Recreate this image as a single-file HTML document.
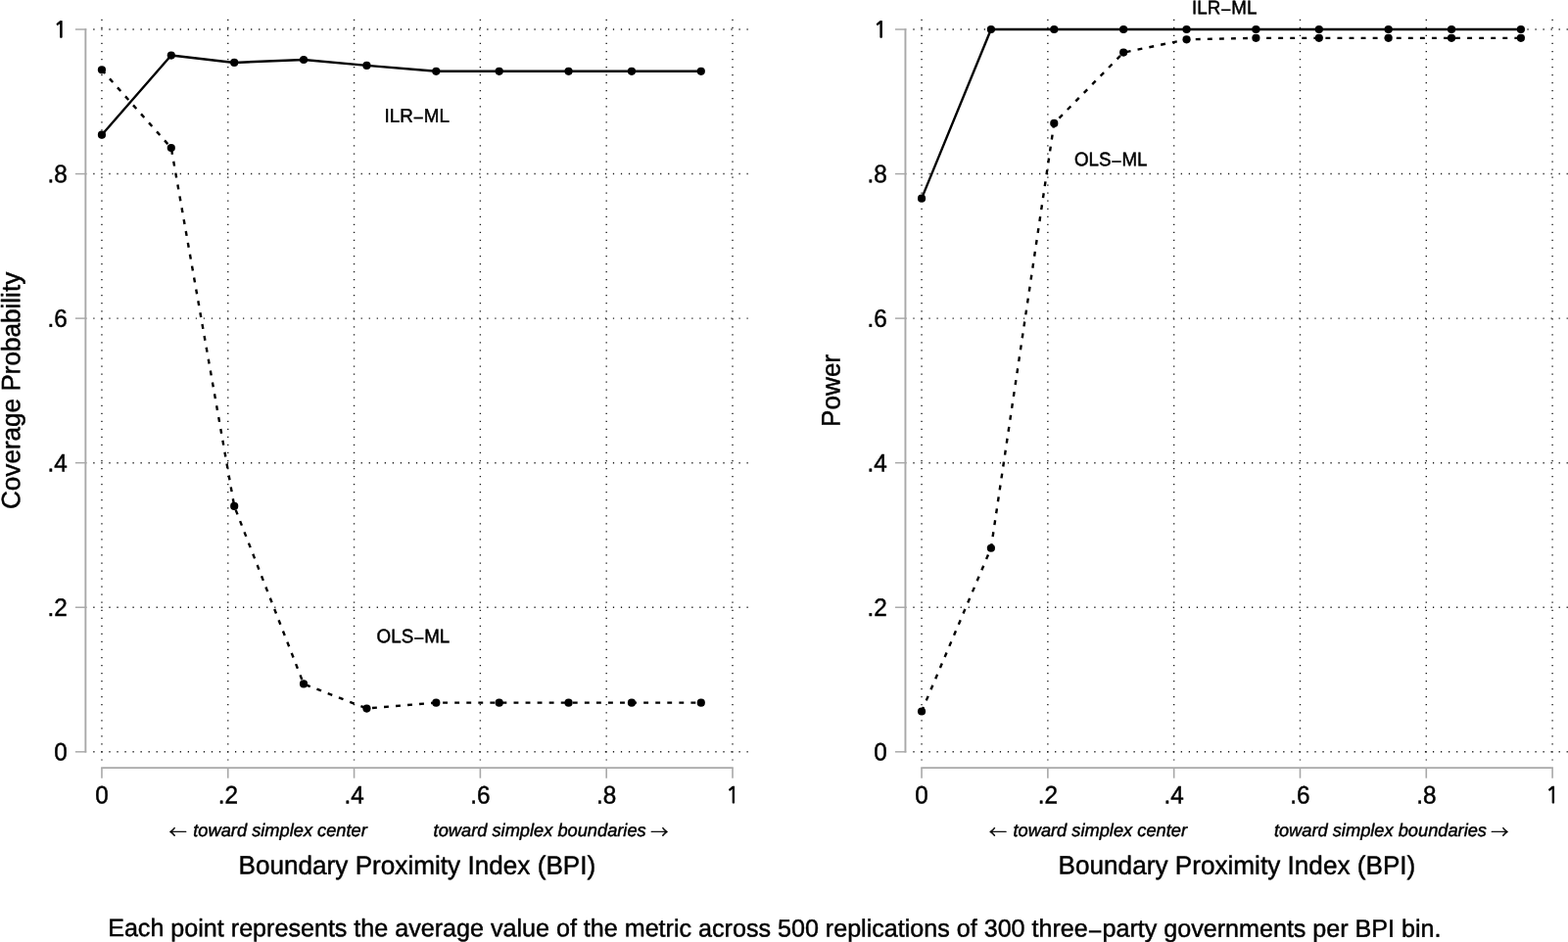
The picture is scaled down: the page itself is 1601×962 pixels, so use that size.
<!DOCTYPE html>
<html lang="en"><head><meta charset="utf-8"><title>Coverage probability and power by Boundary Proximity Index</title>
<style>
html,body{margin:0;padding:0;background:#fff;}
body{width:1601px;height:962px;overflow:hidden;}
svg{display:block;}
text{font-family:"Liberation Sans",sans-serif;fill:#000;stroke:#000;stroke-width:0.45px;stroke-linejoin:round;text-rendering:geometricPrecision;}
.tk{font-size:24.3px;}
.one{font-family:"NanumGothic","Liberation Sans",sans-serif;font-size:22.8px;stroke-width:0.85px;stroke-linejoin:miter;}
.ti{font-size:26.1px;}
.nt{font-size:25.132px;}
.lb{font-size:18.8px;}
.sb{font-size:18.25px;font-style:italic;}
.ar{font-family:"Noto Serif CJK SC","DejaVu Sans","Liberation Sans",serif;font-size:18.0px;font-style:normal;stroke-width:0.55px;}
.ax{stroke:#a8a8a8;stroke-width:1.6;fill:none;}
.gr{stroke:#1c1c1c;stroke-width:1.4;stroke-dasharray:1.25 6.789;fill:none;}
.ln{stroke:#000;stroke-width:2.4;fill:none;stroke-linejoin:round;}
.ds{stroke:#000;stroke-width:2.4;fill:none;stroke-linejoin:round;stroke-dasharray:4.9 7.16;}
.mn{stroke-width:0.3px;}
.mk{fill:#000;}
</style></head><body>
<svg width="1601" height="962" viewBox="0 0 1601 962" role="img" aria-label="Coverage probability and power of ILR-ML and OLS-ML by Boundary Proximity Index">
<rect width="1601" height="962" fill="#fff"/>
<g id="coverage">
<g class="gr">
<line x1="95.28" y1="767.8" x2="763.7" y2="767.8"/>
<line x1="95.28" y1="620.24" x2="763.7" y2="620.24"/>
<line x1="95.28" y1="472.68" x2="763.7" y2="472.68"/>
<line x1="95.28" y1="325.12" x2="763.7" y2="325.12"/>
<line x1="95.28" y1="177.56" x2="763.7" y2="177.56"/>
<line x1="95.28" y1="30" x2="763.7" y2="30"/>
<line x1="103.95" y1="19.72" x2="103.95" y2="776.5"/>
<line x1="232.76" y1="19.72" x2="232.76" y2="776.5"/>
<line x1="361.57" y1="19.72" x2="361.57" y2="776.5"/>
<line x1="490.38" y1="19.72" x2="490.38" y2="776.5"/>
<line x1="619.19" y1="19.72" x2="619.19" y2="776.5"/>
<line x1="748" y1="19.72" x2="748" y2="776.5"/>
</g>
<g class="ax">
<line x1="87.35" y1="29.2" x2="87.35" y2="768.6" stroke-width="1.9"/>
<line x1="76.9" y1="767.8" x2="88.25" y2="767.8" stroke-width="1.45"/>
<line x1="76.9" y1="620.24" x2="88.75" y2="620.24" stroke-width="1.45"/>
<line x1="76.9" y1="472.68" x2="88.75" y2="472.68" stroke-width="1.45"/>
<line x1="76.9" y1="325.12" x2="88.75" y2="325.12" stroke-width="1.45"/>
<line x1="76.9" y1="177.56" x2="88.75" y2="177.56" stroke-width="1.45"/>
<line x1="76.9" y1="30" x2="88.25" y2="30" stroke-width="1.45"/>
<line x1="103.15" y1="784.15" x2="748.8" y2="784.15"/>
<line x1="103.95" y1="784.15" x2="103.95" y2="794.7"/>
<line x1="232.76" y1="784.15" x2="232.76" y2="794.7"/>
<line x1="361.57" y1="784.15" x2="361.57" y2="794.7"/>
<line x1="490.38" y1="784.15" x2="490.38" y2="794.7"/>
<line x1="619.19" y1="784.15" x2="619.19" y2="794.7"/>
<line x1="748" y1="784.15" x2="748" y2="794.7"/>
</g>
<text class="tk" transform="translate(68.65 776.55) matrix(1 0.0005 0 1.05 0 0)" text-anchor="end">0</text>
<text class="tk" transform="translate(68.65 628.99) matrix(1 0.0005 0 1.05 0 0)" text-anchor="end">.2</text>
<text class="tk" transform="translate(68.65 481.43) matrix(1 0.0005 0 1.05 0 0)" text-anchor="end">.4</text>
<text class="tk" transform="translate(68.65 333.87) matrix(1 0.0005 0 1.05 0 0)" text-anchor="end">.6</text>
<text class="tk" transform="translate(68.65 186.31) matrix(1 0.0005 0 1.05 0 0)" text-anchor="end">.8</text>
<text class="tk one" transform="translate(68.65 38.35) matrix(1 0.0005 0 1.0 0 0)" text-anchor="end">1</text>
<text class="tk" transform="translate(103.95 820.5) matrix(1 0.0005 0 1.05 0 0)" text-anchor="middle">0</text>
<text class="tk" transform="translate(232.76 820.5) matrix(1 0.0005 0 1.05 0 0)" text-anchor="middle">.2</text>
<text class="tk" transform="translate(361.57 820.5) matrix(1 0.0005 0 1.05 0 0)" text-anchor="middle">.4</text>
<text class="tk" transform="translate(490.38 820.5) matrix(1 0.0005 0 1.05 0 0)" text-anchor="middle">.6</text>
<text class="tk" transform="translate(619.19 820.5) matrix(1 0.0005 0 1.05 0 0)" text-anchor="middle">.8</text>
<text class="tk one" transform="translate(748.1 820.1) matrix(1 0.0005 0 1.0 0 0)" text-anchor="middle">1</text>
<polyline class="ds" stroke-dashoffset="0" points="103.95,71.32 174.8,151 239.2,516.95 310.05,698.45 374.45,723.53 445.3,717.63 509.7,717.63 580.55,717.63 644.95,717.63 715.8,717.63"/>
<polyline class="ln" points="103.95,137.72 174.8,56.56 239.2,63.94 310.05,60.99 374.45,66.89 445.3,72.79 509.7,72.79 580.55,72.79 644.95,72.79 715.8,72.79"/>
<g class="mk">
<circle cx="103.95" cy="71.32" r="4.1"/>
<circle cx="174.8" cy="151" r="4.1"/>
<circle cx="239.2" cy="516.95" r="4.1"/>
<circle cx="310.05" cy="698.45" r="4.1"/>
<circle cx="374.45" cy="723.53" r="4.1"/>
<circle cx="445.3" cy="717.63" r="4.1"/>
<circle cx="509.7" cy="717.63" r="4.1"/>
<circle cx="580.55" cy="717.63" r="4.1"/>
<circle cx="644.95" cy="717.63" r="4.1"/>
<circle cx="715.8" cy="717.63" r="4.1"/>
<circle cx="103.95" cy="137.72" r="4.1"/>
<circle cx="174.8" cy="56.56" r="4.1"/>
<circle cx="239.2" cy="63.94" r="4.1"/>
<circle cx="310.05" cy="60.99" r="4.1"/>
<circle cx="374.45" cy="66.89" r="4.1"/>
<circle cx="445.3" cy="72.79" r="4.1"/>
<circle cx="509.7" cy="72.79" r="4.1"/>
<circle cx="580.55" cy="72.79" r="4.1"/>
<circle cx="644.95" cy="72.79" r="4.1"/>
<circle cx="715.8" cy="72.79" r="4.1"/>
</g>
<text class="lb" transform="translate(392.6 124.65) matrix(1 0.0005 0 1.043 0 0)">ILR<tspan class="mn" dy="2.25">−</tspan><tspan dy="-2.25">ML</tspan></text>
<text class="lb" transform="translate(384.6 656.2) matrix(1 0.0005 0 1.043 0 0)">OLS<tspan class="mn" dy="2.25">−</tspan><tspan dy="-2.25">ML</tspan></text>
<text class="sb" transform="translate(172.8 854) matrix(1 0.0005 0 1.0 0 0)"><tspan class="ar" dy="2.25">←</tspan><tspan dy="-2.25" dx="1.43"> toward simplex center</tspan></text>
<text class="sb" transform="translate(442.6 854) matrix(1 0.0005 0 1.0 0 0)">toward simplex boundaries <tspan class="ar" dy="2.25" dx="-0.56">→</tspan></text>
<text class="ti" transform="translate(243.5 892.6) matrix(1 0.0005 0 1.02 0 0)" textLength="364.7" lengthAdjust="spacing">Boundary Proximity Index (BPI)</text>
<text class="ti" transform="translate(20.2 398.9) rotate(-90) matrix(1 0.0005 0 1.02 0 0)" text-anchor="middle">Coverage Probability</text>
</g>
<g id="power">
<g class="gr">
<line x1="932.38" y1="767.8" x2="1600.8" y2="767.8"/>
<line x1="932.38" y1="620.24" x2="1600.8" y2="620.24"/>
<line x1="932.38" y1="472.68" x2="1600.8" y2="472.68"/>
<line x1="932.38" y1="325.12" x2="1600.8" y2="325.12"/>
<line x1="932.38" y1="177.56" x2="1600.8" y2="177.56"/>
<line x1="932.38" y1="30" x2="1600.8" y2="30"/>
<line x1="941.05" y1="19.72" x2="941.05" y2="776.5"/>
<line x1="1069.86" y1="19.72" x2="1069.86" y2="776.5"/>
<line x1="1198.67" y1="19.72" x2="1198.67" y2="776.5"/>
<line x1="1327.48" y1="19.72" x2="1327.48" y2="776.5"/>
<line x1="1456.29" y1="19.72" x2="1456.29" y2="776.5"/>
<line x1="1585.1" y1="19.72" x2="1585.1" y2="776.5"/>
</g>
<g class="ax">
<line x1="924.45" y1="29.2" x2="924.45" y2="768.6" stroke-width="1.9"/>
<line x1="914" y1="767.8" x2="925.35" y2="767.8" stroke-width="1.45"/>
<line x1="914" y1="620.24" x2="925.85" y2="620.24" stroke-width="1.45"/>
<line x1="914" y1="472.68" x2="925.85" y2="472.68" stroke-width="1.45"/>
<line x1="914" y1="325.12" x2="925.85" y2="325.12" stroke-width="1.45"/>
<line x1="914" y1="177.56" x2="925.85" y2="177.56" stroke-width="1.45"/>
<line x1="914" y1="30" x2="925.35" y2="30" stroke-width="1.45"/>
<line x1="940.25" y1="784.15" x2="1585.9" y2="784.15"/>
<line x1="941.05" y1="784.15" x2="941.05" y2="794.7"/>
<line x1="1069.86" y1="784.15" x2="1069.86" y2="794.7"/>
<line x1="1198.67" y1="784.15" x2="1198.67" y2="794.7"/>
<line x1="1327.48" y1="784.15" x2="1327.48" y2="794.7"/>
<line x1="1456.29" y1="784.15" x2="1456.29" y2="794.7"/>
<line x1="1585.1" y1="784.15" x2="1585.1" y2="794.7"/>
</g>
<text class="tk" transform="translate(905.75 776.55) matrix(1 0.0005 0 1.05 0 0)" text-anchor="end">0</text>
<text class="tk" transform="translate(905.75 628.99) matrix(1 0.0005 0 1.05 0 0)" text-anchor="end">.2</text>
<text class="tk" transform="translate(905.75 481.43) matrix(1 0.0005 0 1.05 0 0)" text-anchor="end">.4</text>
<text class="tk" transform="translate(905.75 333.87) matrix(1 0.0005 0 1.05 0 0)" text-anchor="end">.6</text>
<text class="tk" transform="translate(905.75 186.31) matrix(1 0.0005 0 1.05 0 0)" text-anchor="end">.8</text>
<text class="tk one" transform="translate(905.75 38.35) matrix(1 0.0005 0 1.0 0 0)" text-anchor="end">1</text>
<text class="tk" transform="translate(941.05 820.5) matrix(1 0.0005 0 1.05 0 0)" text-anchor="middle">0</text>
<text class="tk" transform="translate(1069.86 820.5) matrix(1 0.0005 0 1.05 0 0)" text-anchor="middle">.2</text>
<text class="tk" transform="translate(1198.67 820.5) matrix(1 0.0005 0 1.05 0 0)" text-anchor="middle">.4</text>
<text class="tk" transform="translate(1327.48 820.5) matrix(1 0.0005 0 1.05 0 0)" text-anchor="middle">.6</text>
<text class="tk" transform="translate(1456.29 820.5) matrix(1 0.0005 0 1.05 0 0)" text-anchor="middle">.8</text>
<text class="tk one" transform="translate(1585.2 820.1) matrix(1 0.0005 0 1.0 0 0)" text-anchor="middle">1</text>
<polyline class="ds" stroke-dashoffset="0" points="941.05,726.48 1011.9,559.74 1076.3,125.91 1147.15,53.61 1211.55,40.33 1282.4,38.85 1346.8,38.85 1417.65,38.85 1482.05,38.85 1552.9,38.85"/>
<polyline class="ln" points="941.05,202.65 1011.9,30 1076.3,30 1147.15,30 1211.55,30 1282.4,30 1346.8,30 1417.65,30 1482.05,30 1552.9,30"/>
<g class="mk">
<circle cx="941.05" cy="726.48" r="4.1"/>
<circle cx="1011.9" cy="559.74" r="4.1"/>
<circle cx="1076.3" cy="125.91" r="4.1"/>
<circle cx="1147.15" cy="53.61" r="4.1"/>
<circle cx="1211.55" cy="40.33" r="4.1"/>
<circle cx="1282.4" cy="38.85" r="4.1"/>
<circle cx="1346.8" cy="38.85" r="4.1"/>
<circle cx="1417.65" cy="38.85" r="4.1"/>
<circle cx="1482.05" cy="38.85" r="4.1"/>
<circle cx="1552.9" cy="38.85" r="4.1"/>
<circle cx="941.05" cy="202.65" r="4.1"/>
<circle cx="1011.9" cy="30" r="4.1"/>
<circle cx="1076.3" cy="30" r="4.1"/>
<circle cx="1147.15" cy="30" r="4.1"/>
<circle cx="1211.55" cy="30" r="4.1"/>
<circle cx="1282.4" cy="30" r="4.1"/>
<circle cx="1346.8" cy="30" r="4.1"/>
<circle cx="1417.65" cy="30" r="4.1"/>
<circle cx="1482.05" cy="30" r="4.1"/>
<circle cx="1552.9" cy="30" r="4.1"/>
</g>
<text class="lb" transform="translate(1217.1 14.3) matrix(1 0.0005 0 1.043 0 0)">ILR<tspan class="mn" dy="2.25">−</tspan><tspan dy="-2.25">ML</tspan></text>
<text class="lb" transform="translate(1096.9 169.15) matrix(1 0.0005 0 1.043 0 0)">OLS<tspan class="mn" dy="2.25">−</tspan><tspan dy="-2.25">ML</tspan></text>
<text class="sb" transform="translate(1010 854) matrix(1 0.0005 0 1.0 0 0)"><tspan class="ar" dy="2.25">←</tspan><tspan dy="-2.25" dx="1.43"> toward simplex center</tspan></text>
<text class="sb" transform="translate(1300.9 854) matrix(1 0.0005 0 1.0 0 0)">toward simplex boundaries <tspan class="ar" dy="2.25" dx="-0.76">→</tspan></text>
<text class="ti" transform="translate(1080.6 892.6) matrix(1 0.0005 0 1.02 0 0)" textLength="364.7" lengthAdjust="spacing">Boundary Proximity Index (BPI)</text>
<text class="ti" transform="translate(857.5 398.9) rotate(-90) matrix(1 0.0005 0 1.02 0 0)" text-anchor="middle">Power</text>
</g>
<text class="nt" transform="translate(110.16 956.1) matrix(1 0.0005 0 1.0 0 0)" textLength="1361.4" lengthAdjust="spacing">Each point represents the average value of the metric across 500 replications of 300 three<tspan class="mn" dy="3.14">−</tspan><tspan dy="-3.14">party governments per BPI bin.</tspan></text>
</svg>
</body></html>
